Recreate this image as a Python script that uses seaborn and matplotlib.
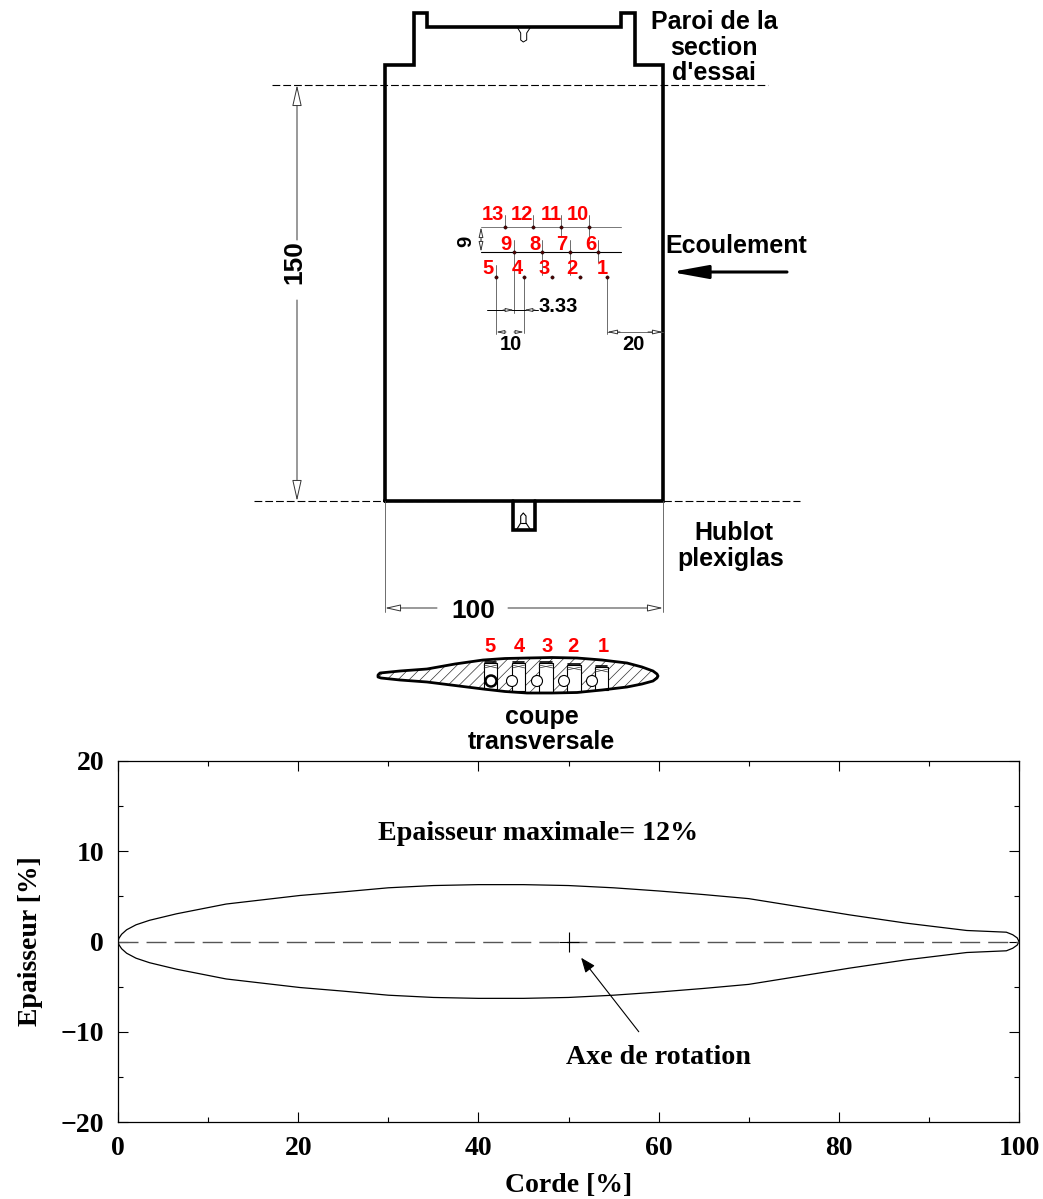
import matplotlib
matplotlib.use('Agg')
import matplotlib.pyplot as plt
from matplotlib.patches import Polygon, Circle, Rectangle
import pandas as pd
import seaborn as sns

# profile, % of chord
corde = [0, 0.1, 0.4, 0.96, 2, 3.5, 6.5, 12, 20.2, 25, 30, 35, 40, 45, 50, 55, 60, 65, 70, 75, 81.2, 87.5, 94.2, 97, 98.6, 99.3, 99.8, 100]
epaisseur = [0, 0.35, 0.8, 1.3, 1.85, 2.35, 3.07, 4.15, 5.1, 5.5, 5.95, 6.2, 6.3, 6.3, 6.2, 5.95, 5.6, 5.2, 4.75, 3.95, 2.95, 2.03, 1.22, 1.1, 1.03, 0.75, 0.4, 0]
xticks = [0, 20, 40, 60, 80, 100]
yticks = [-20, -10, 0, 10, 20]

# test section drawing, in image pixels
wall_x = [385, 385, 414, 414, 427, 427, 621, 621, 635, 635, 663, 663, 385]
wall_y = [501, 65, 65, 13, 13, 27, 27, 13, 13, 65, 65, 501, 501]
window_x = [513, 513, 535, 535]
window_y = [501, 530, 530, 501]
row_top_x = [505, 533, 561, 589]
row_mid_x = [514, 542, 570, 598]
row_low_x = [496, 524, 552, 580, 607]
row_y = [227, 252, 277]
labels_top = ['13', '12', '11', '10']
labels_top_x = [493, 522, 551, 578]
labels_mid = ['9', '8', '7', '6']
labels_mid_x = [506, 535, 562, 591]
labels_low = ['5', '4', '3', '2', '1']
labels_low_x = [488, 517, 544, 572, 602]
# x, y start, y end
leaders = [(505, 215, 227), (533, 215, 227), (561, 215, 236), (589, 215, 240), (514, 240, 313),
           (542, 240, 275), (570, 240, 275), (598, 240, 262), (496, 265, 334), (524, 277, 333), (607, 277, 334)]

# section of the blade, in image pixels
section_x = [378, 380, 400, 427, 455, 483, 505, 527, 552, 577, 602, 627, 642, 653, 657, 658, 657, 653, 642, 627, 602, 577, 552, 527, 505, 483, 455, 427, 400, 381, 378]
section_y = [675, 673, 671, 669, 664, 660, 658.5, 658, 657.5, 658, 660, 663, 667, 671, 674, 676, 678, 681, 684, 687, 690, 692.5, 693, 693, 691.5, 689, 685.5, 682, 680, 678, 677]
cavity_x = [484, 512, 539, 567, 595]
cavity_w = [13, 13, 14, 14, 13]
cavity_top = [663, 663, 663, 665, 667]
cavity_bot = [689, 691, 692, 692, 690]
hole_x = [491, 512, 537, 564, 592]
section_labels = ['5', '4', '3', '2', '1']
section_labels_x = [490, 519, 547, 573, 603]

W, H = 1043, 1199
sns.set_style('ticks')
plt.rcParams['font.family'] = ['Liberation Sans', 'DejaVu Sans']
plt.rcParams['text.color'] = 'black'
plt.rcParams['axes.labelcolor'] = 'black'
plt.rcParams['xtick.color'] = 'black'
plt.rcParams['ytick.color'] = 'black'
plt.rcParams['axes.edgecolor'] = 'black'
plt.rcParams['hatch.linewidth'] = 0.5

fig = plt.figure(figsize=(W / 100, H / 100), dpi=100)

# bottom chart
ax = fig.add_axes([118 / W, 1 - 1122 / H, (1019 - 118) / W, (1122 - 761) / H])
df = pd.DataFrame({'corde': corde + corde[::-1], 'ep': epaisseur + [-v for v in epaisseur[::-1]]})
sns.lineplot(data=df, x='corde', y='ep', sort=False, estimator=None, color='black', lw=0.9, ax=ax)
ax.plot([0, 100], [0, 0], color='#555555', lw=1.0, dashes=(14.4, 5.8))
ax.plot([50], [0], marker='+', ms=14, mew=0.8, color='black')
ax.set_xlim(0, 100)
ax.set_ylim(-20, 20)
ax.set_xticks(xticks)
ax.set_yticks(yticks)
ax.set_xticks([10, 30, 50, 70, 90], minor=True)
ax.set_yticks([-15, -5, 5, 15], minor=True)
ax.tick_params(which='major', direction='in', length=7, width=0.8, top=True, right=True, pad=10)
ax.tick_params(which='minor', direction='in', length=3.6, width=0.8, top=True, right=True)
for s in ax.spines.values():
    s.set_linewidth(0.9)
    s.set_visible(True)
serif = dict(family='Liberation Serif', fontweight='bold')
for t in ax.get_xticklabels() + ax.get_yticklabels():
    t.set_fontfamily('Liberation Serif')
    t.set_fontweight('bold')
    t.set_fontsize(20)
ax.set_xlabel('Corde [%]', fontsize=20, labelpad=9, **serif)
ax.set_ylabel('Epaisseur [%]', fontsize=20, labelpad=13, **serif)
ax.text(46.6, 12.0, 'Epaisseur maximale= 12%', fontsize=20.2, ha='center', va='center', **serif)
ax.text(60, -12.9, 'Axe de rotation', fontsize=20.2, ha='center', va='center', **serif)
ax.annotate('', xy=(51.4, -1.8), xytext=(57.8, -10),
            arrowprops=dict(arrowstyle='-|>,head_length=0.5,head_width=0.2', color='black', lw=0.8,
                            mutation_scale=18, shrinkA=0, shrinkB=0))

# overlay for the drawing, one unit is one pixel
dr = fig.add_axes([0, 0, 1, 1])
dr.set_xlim(0, W)
dr.set_ylim(H, 0)
dr.axis('off')
dr.patch.set_alpha(0)

dr.plot([272, 768], [85, 85], color='black', lw=0.8, dashes=(7, 2.7))
dr.plot([254, 800], [501, 501], color='black', lw=0.8, dashes=(7, 2.7))
dr.plot(wall_x, wall_y, color='black', lw=2.6, solid_joinstyle='miter')
dr.plot(window_x, window_y, color='black', lw=2.6, solid_joinstyle='miter')

# glass fittings
dr.plot([517.7, 520.7, 520.7, 523.3, 526.7, 526.7, 530], [28, 33, 40, 42, 40, 33, 28], color='black', lw=0.7)
dr.plot([517, 520.7, 520.7, 523.3, 526, 526, 530], [529, 523, 516, 513, 516, 523, 529], color='black', lw=0.8)
dr.plot([520.7, 526], [523, 523], color='black', lw=0.8)


def dim(x0, y0, x1, y1, color='#333333', lw=0.7, ms=11):
    dr.annotate('', xy=(x1, y1), xytext=(x0, y0),
                arrowprops=dict(arrowstyle='-|>,head_length=1.2,head_width=0.27', fc='white', ec=color, lw=lw,
                                mutation_scale=ms, shrinkA=0, shrinkB=0))


dim(297, 240, 297, 85)
dim(297, 300, 297, 501)
dr.plot([385, 385], [501, 612], color='#555555', lw=0.6)
dr.plot([663, 663], [501, 612], color='#555555', lw=0.6)
dim(437, 608, 385, 608, ms=8)
dim(508, 608, 663, 608, ms=8)

# probe grid
dr.plot([481, 621], [row_y[0]] * 2, color='#777777', lw=0.7)
dr.plot([481, 621], [row_y[1]] * 2, color='black', lw=0.8)
for x, y0, y1 in leaders:
    dr.plot([x, x], [y0, y1], color='#555555', lw=0.6)
for xs, y in zip([row_top_x, row_mid_x, row_low_x], row_y):
    dr.plot(xs, [y] * len(xs), ls='none', marker='o', ms=2.4, mfc='#500000', mec='black', mew=0.3)
red = dict(color='red', fontweight='bold', fontsize=14.5, ha='center', va='center')
for names, xs, y in [(labels_top, labels_top_x, 214), (labels_mid, labels_mid_x, 243), (labels_low, labels_low_x, 268)]:
    for n, x in zip(names, xs):
        dr.text(x, y + 1, n, **red)

# small dimensions
dr.plot([487, 538], [310, 310], color='black', lw=0.7)
dim(503, 310, 514, 310, ms=4)
dim(535, 310, 524, 310, ms=4)
dim(506, 332, 496, 332, ms=4)
dim(514, 332, 524, 332, ms=4)
dim(620, 332, 607, 332, ms=5)
dim(648, 332, 663, 332, ms=5)
dr.plot([607, 663], [332, 332], color='#555555', lw=0.6)
dim(481, 240, 481, 227, ms=5)
dim(481, 240, 481, 252, ms=5)

lab = dict(color='black', fontweight='bold', ha='center', va='center')
dr.text(558, 306, '3.33', fontsize=14.5, **lab)
dr.text(511, 345, '10', fontsize=14.5, **lab)
dr.text(633, 345, '20', fontsize=14.5, **lab)
dr.text(466, 241, '9', fontsize=14.5, rotation=90, **lab)
dr.text(294, 262, '150', fontsize=19, rotation=90, **lab)
dr.text(473, 611, '100', fontsize=19, **lab)
for txt, y in [('Paroi de la', 22), ('section', 48), ("d'essai", 73)]:
    dr.text(714, y, txt, fontsize=18, **lab)
dr.text(736, 246, 'Ecoulement', fontsize=18, **lab)
dr.annotate('', xy=(671, 272), xytext=(787, 272),
            arrowprops=dict(arrowstyle='-|>,head_length=1.1,head_width=0.2', color='black', lw=2.2,
                            mutation_scale=20, shrinkA=0, shrinkB=0))
dr.text(734, 533, 'Hublot', fontsize=18, **lab)
dr.text(731, 559, 'plexiglas', fontsize=18, **lab)

# blade section
dr.add_patch(Polygon(list(zip(section_x, section_y)), closed=True, fc='white', ec='#333333', hatch='///', lw=0))
for x, w, t, b in zip(cavity_x, cavity_w, cavity_top, cavity_bot):
    dr.add_patch(Rectangle((x, t), w, b - t, fc='white', ec='black', lw=0.8, zorder=3))
    dr.plot([x, x + w], [t + 2, t + 5], color='#333333', lw=0.5, zorder=4)
    dr.plot([x, x + w], [t + 5, t + 2], color='#333333', lw=0.5, zorder=4)
    dr.plot([x + 1, x + w - 1], [t - 1, t - 1], color='black', lw=1.2, zorder=4)
for i, x in enumerate(hole_x):
    dr.add_patch(Circle((x, 681), 5.5, fc='white', ec='black', lw=1.8 if i == 0 else 0.8, zorder=5))
dr.add_patch(Polygon(list(zip(section_x, section_y)), closed=True, fill=False, ec='black', lw=2.0, joinstyle='round', zorder=6))
for n, x in zip(section_labels, section_labels_x):
    dr.text(x, 647, n, **red)
dr.text(542, 717, 'coupe', fontsize=18, **lab)
dr.text(541, 742, 'transversale', fontsize=18, **lab)

fig.savefig('out.png', dpi=100)
